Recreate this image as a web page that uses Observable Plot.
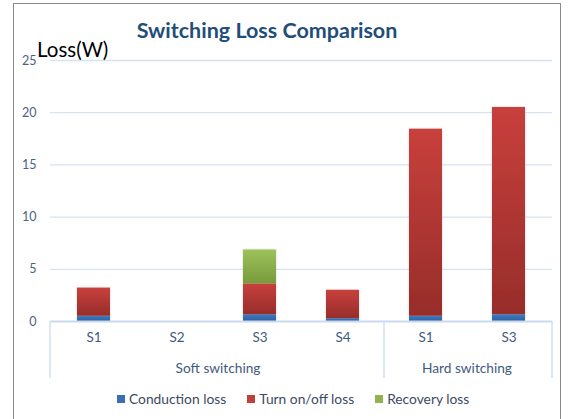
<!DOCTYPE html>
<html>
<head>
<meta charset="utf-8">
<script src="https://cdn.jsdelivr.net/npm/d3@7"></script>
<script src="https://cdn.jsdelivr.net/npm/@observablehq/plot@0.6"></script>
<style>
  body { margin: 0; background: #fff; font-family: Lato, "Open Sans", sans-serif; }
  #chart { position: relative; width: 568px; height: 419px; overflow: hidden; }
  #frame { position: absolute; left: 13px; top: 3px; width: 548px; height: 440px; border: 1px solid #8a8a8a; box-sizing: border-box; }
  #chart svg { position: absolute; left: 0; top: 0; }
  #title { position: absolute; left: 0; top: 17px; width: 534px; text-align: center; font-weight: bold; font-size: 21.5px; line-height: 26px; color: #1f4e79; }
  #ylabel { position: absolute; left: 37px; top: 37px; font-size: 20.5px; line-height: 25px; color: #000; }
  #legend { position: absolute; left: 117px; top: 390px; display: flex; gap: 21px; font-size: 13.8px; line-height: 18px; color: #3b4a63; }
  #legend .item { display: flex; align-items: center; }
  #legend .sw { width: 8px; height: 8px; margin-right: 4px; }
</style>
</head>
<body>
<div id="chart">
  <div id="frame"></div>
  <div id="title">Switching Loss Comparison</div>
  <div id="ylabel">Loss(W)</div>
  <div id="legend"></div>
</div>
<script>
// Switching losses per device (W), grouped by switching mode
const groups = ["Soft switching", "Soft switching", "Soft switching", "Soft switching", "Hard switching", "Hard switching"];
const switches = ["S1", "S2", "S3", "S4", "S1", "S3"];
const conductionLoss = [0.5, 0, 0.65, 0.27, 0.5, 0.65];
const turnOnOffLoss = [2.7, 0, 2.95, 2.72, 17.92, 19.85];
const recoveryLoss = [0, 0, 3.25, 0, 0, 0];
const seriesNames = ["Conduction loss", "Turn on/off loss", "Recovery loss"];
const yTicks = [0, 5, 10, 15, 20, 25];

const swatch = ["#3a6fb6", "#c0403c", "#8fb34d"];
const gradients = [
  {id: "grad-cond", top: "#3f7bc6", bottom: "#2d5f9e"},
  {id: "grad-turn", top: "#c8403c", bottom: "#972d2a"},
  {id: "grad-rec", top: "#9ec25a", bottom: "#779a3c"}
];

const keys = switches.map((s, i) => `${groups[i]}|${s}`);
const valuesBySeries = [conductionLoss, turnOnOffLoss, recoveryLoss];
const rows = [];
keys.forEach((key, i) => {
  seriesNames.forEach((name, j) => {
    rows.push({key, series: name, value: valuesBySeries[j][i]});
  });
});

// Group dividers under the baseline and the group captions, placed from the x scale
function groupAnnotations() {
  return (index, scales, values, dims) => {
    const x = scales.x, y = scales.y;
    const bw = typeof x.bandwidth === "function" ? x.bandwidth() : x.bandwidth;
    const y0 = y(0);
    const g = d3.create("svg:g");
    const groupNames = [...new Set(groups)];
    const spans = groupNames.map(name => {
      const ks = keys.filter((k, i) => groups[i] === name);
      return {name, x0: x(ks[0]), x1: x(ks[ks.length - 1]) + bw};
    });
    const bounds = [dims.marginLeft];
    for (let i = 0; i < spans.length - 1; i++) bounds.push((spans[i].x1 + spans[i + 1].x0) / 2);
    bounds.push(dims.width - dims.marginRight);
    bounds.forEach(bx => {
      g.append("line").attr("x1", bx).attr("x2", bx).attr("y1", y0).attr("y2", y0 + 57)
        .attr("stroke", "#d3e0f0").attr("stroke-width", 1.5);
    });
    spans.forEach(s => {
      g.append("text").attr("x", (s.x0 + s.x1) / 2).attr("y", y0 + 52)
        .attr("text-anchor", "middle").attr("fill", "#3f5a80")
        .attr("font-size", 13.7).text(s.name);
    });
    return g.node();
  };
}

const plot = Plot.plot({
  width: 568,
  height: 419,
  marginTop: 60,
  marginBottom: 98,
  marginLeft: 50,
  marginRight: 16,
  style: {fontFamily: "Lato, 'Open Sans', sans-serif", fontSize: "13.5px", color: "#4a6284", background: "transparent"},
  x: {domain: keys, paddingInner: 0.6, paddingOuter: 0.3, axis: null},
  y: {domain: [0, 25], axis: null},
  color: {domain: seriesNames, range: gradients.map(d => `url(#${d.id})`)},
  marks: [
    Plot.ruleY(yTicks.filter(d => d > 0), {stroke: "#d6e3f2", strokeWidth: 1.3}),
    Plot.axisY({ticks: yTicks, tickSize: 0, tickPadding: 14, label: null, fill: "#4a6284", fontSize: 12.5}),
    Plot.barY(rows, Plot.stackY({x: "key", y: "value", fill: "series", order: seriesNames, filter: d => d.value > 0})),
    Plot.ruleY([0], {stroke: "#c9daee", strokeWidth: 2}),
    Plot.axisX({tickSize: 0, tickPadding: 11, label: null, tickFormat: k => k.split("|")[1], fill: "#3f5a80"}),
    groupAnnotations()
  ]
});

const svg = d3.select(plot);
const defs = svg.insert("defs", ":first-child");
gradients.forEach(gd => {
  const lg = defs.append("linearGradient").attr("id", gd.id).attr("x1", 0).attr("y1", 0).attr("x2", 0).attr("y2", 1);
  lg.append("stop").attr("offset", "0%").attr("stop-color", gd.top);
  lg.append("stop").attr("offset", "100%").attr("stop-color", gd.bottom);
});
const f = defs.append("filter").attr("id", "bar-shadow").attr("x", "-20%").attr("y", "-20%").attr("width", "140%").attr("height", "140%");
f.append("feDropShadow").attr("dx", 0).attr("dy", 0).attr("stdDeviation", 1.2).attr("flood-color", "#000").attr("flood-opacity", 0.18);
svg.selectAll("g[aria-label='bar']").attr("filter", "url(#bar-shadow)");

document.getElementById("chart").insertBefore(plot, document.getElementById("title"));

const legend = d3.select("#legend");
seriesNames.forEach((name, i) => {
  const item = legend.append("div").attr("class", "item");
  item.append("div").attr("class", "sw").style("background", swatch[i]);
  item.append("span").text(name);
});
</script>
</body>
</html>
